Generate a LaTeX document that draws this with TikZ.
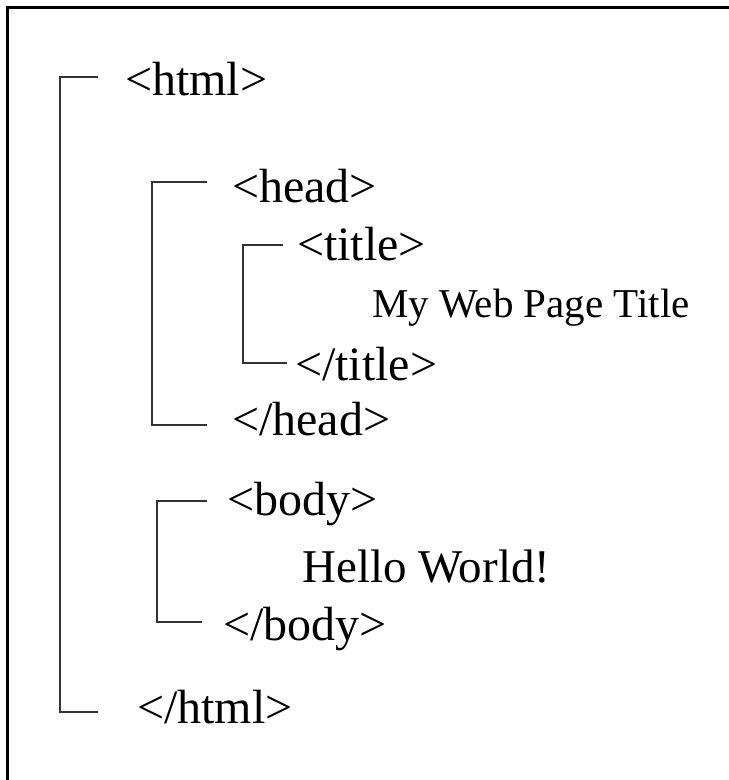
\documentclass[tikz,border=0pt]{standalone}
\usepackage{fontspec}
\setmainfont{Liberation Serif}
\definecolor{barcol}{HTML}{333333}
\tikzset{
  tag/.style={anchor=base west, inner sep=0pt, font=\fontsize{48}{48}\selectfont},
  content/.style={anchor=base west, inner sep=0pt},
  bracket/.style={draw=barcol, line width=2.4pt},
  frame/.style={draw=black, line width=3pt}
}
\begin{document}
\begin{tikzpicture}[x=1pt, y=-1pt]
  \useasboundingbox (0,0) rectangle (729,780);
  \fill[white] (0,0) rectangle (729,780);

  % outer frame (top and left edges)
  \coordinate (fbl) at (7,781);
  \coordinate (ftl) at (7,7);
  \coordinate (ftr) at (730,7);
  \draw[frame] (fbl) -- (ftl) -- (ftr);

  % tags and content
  \node[tag] (htmlopen)  at (125,95)  {<html>};
  \node[tag] (headopen)  at (232,202) {<head>};
  \node[tag] (titleopen) at (297,260) {<title>};
  \node[content, font=\fontsize{41}{41}\selectfont] (titletext) at (372,317) {My Web Page Title};
  \node[tag] (titleclose) at (295,380) {</title>};
  \node[tag] (headclose) at (232,435) {</head>};
  \node[tag] (bodyopen)  at (227,515) {<body>};
  \node[content, font=\fontsize{47}{47}\selectfont] (bodytext) at (302,582) {Hello World!};
  \node[tag] (bodyclose) at (223,640) {</body>};
  \node[tag] (htmlclose) at (137,723) {</html>};

  % html bracket
  \coordinate (h1) at (98,77);  \coordinate (h2) at (60,77);
  \coordinate (h3) at (60,712); \coordinate (h4) at (98,712);
  \draw[bracket] (h1) -- (h2) -- (h3) -- (h4);

  % head bracket
  \coordinate (d1) at (207,182); \coordinate (d2) at (152,182);
  \coordinate (d3) at (152,425); \coordinate (d4) at (207,425);
  \draw[bracket] (d1) -- (d2) -- (d3) -- (d4);

  % title bracket
  \coordinate (t1) at (283,245); \coordinate (t2) at (243,245);
  \coordinate (t3) at (243,363); \coordinate (t4) at (287,363);
  \draw[bracket] (t1) -- (t2) -- (t3) -- (t4);

  % body bracket
  \coordinate (b1) at (207,501); \coordinate (b2) at (157,501);
  \coordinate (b3) at (157,622); \coordinate (b4) at (202,622);
  \draw[bracket] (b1) -- (b2) -- (b3) -- (b4);
\end{tikzpicture}
\end{document}
